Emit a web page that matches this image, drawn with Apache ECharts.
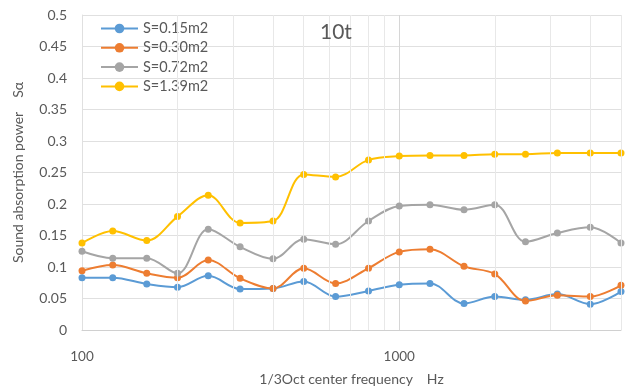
<!DOCTYPE html>
<html><head><meta charset="utf-8">
<script src="https://cdn.jsdelivr.net/npm/echarts@6/dist/echarts.min.js"></script>
<style>html,body{margin:0;padding:0;background:#fff}#c{width:627px;height:391px}</style>
</head><body><div id="c"></div>
<script>
const freqs = [100,125,160,200,250,315,400,500,630,800,1000,1250,1600,2000,2500,3150,4000,5000];
const s015 = [0.083,0.083,0.073,0.068,0.086,0.065,0.066,0.077,0.053,0.062,0.072,0.074,0.042,0.053,0.048,0.057,0.041,0.061];
const s030 = [0.094,0.103,0.090,0.083,0.111,0.082,0.066,0.098,0.074,0.098,0.124,0.128,0.101,0.089,0.046,0.055,0.053,0.071];
const s072 = [0.125,0.114,0.114,0.090,0.160,0.132,0.113,0.144,0.136,0.173,0.197,0.199,0.191,0.199,0.140,0.154,0.163,0.138];
const s139 = [0.138,0.157,0.142,0.180,0.214,0.170,0.173,0.247,0.243,0.270,0.276,0.277,0.277,0.279,0.279,0.281,0.281,0.281];
const seriesNames = ['S=0.15m2','S=0.30m2','S=0.72m2','S=1.39m2'];
const colors = ['#5B9BD5','#ED7D31','#A5A5A5','#FFC000'];
const minorGrid = [200,300,400,500,600,700,800,900,2000,3000,4000,5000];
const FONT = 'Lato, "Open Sans", sans-serif';

const allData = [s015,s030,s072,s139];
const chart = echarts.init(document.getElementById('c'));
const series = allData.map((arr,i)=>({
  name: seriesNames[i], type:'line', smooth:0.35, symbol:'circle', symbolSize:7,
  data: freqs.map((f,j)=>[f,arr[j]]),
  lineStyle:{width:2,color:colors[i]}, itemStyle:{color:colors[i]}, z:3
}));
series.unshift({
  name:'grid', type:'line', data:[], z:1, silent:true,
  markLine:{silent:true, symbol:'none', animation:false, label:{show:false},
    lineStyle:{color:'#e8e8e8', type:'solid', width:1},
    data: minorGrid.map(v=>({xAxis:v}))}
});
chart.setOption({
  animation:false,
  color: colors,
  textStyle:{fontFamily:FONT},
  title:{text:'10t', left:315, top:17, textStyle:{fontFamily:FONT,fontSize:21,fontWeight:'normal',color:'#595959'}},
  legend:{data:seriesNames, orient:'vertical', left:95, top:16, itemWidth:37, itemHeight:12, itemGap:4.3,
    textStyle:{fontFamily:FONT,fontSize:14.5,color:'#595959'}},
  grid:{left:82, right:6, top:15, bottom:58},
  xAxis:{type:'log', logBase:10, min:100, max:5000,
    name:'1/3Oct center frequency　Hz', nameLocation:'middle', nameGap:42,
    nameTextStyle:{fontFamily:FONT,fontSize:14,color:'#595959'},
    axisLine:{show:true,lineStyle:{color:'#d0d0d0'}}, axisTick:{show:false},
    axisLabel:{fontFamily:FONT,fontSize:13.5,color:'#595959',margin:20,showMaxLabel:false,formatter:v=>String(v)},
    splitLine:{show:true,lineStyle:{color:'#d6d6d6'}}},
  yAxis:{type:'value', min:0, max:0.5, interval:0.05,
    name:'Sound absorption power　Sα', nameLocation:'middle', nameGap:57,
    nameTextStyle:{fontFamily:FONT,fontSize:14,color:'#595959'},
    axisLine:{show:true,lineStyle:{color:'#e0e0e0'}}, axisTick:{show:false},
    axisLabel:{fontFamily:FONT,fontSize:14,color:'#595959',margin:15,formatter:v=>String(+v.toFixed(2))},
    splitLine:{lineStyle:{color:'#e0e0e0'}}},
  series: series
});
</script></body></html>
